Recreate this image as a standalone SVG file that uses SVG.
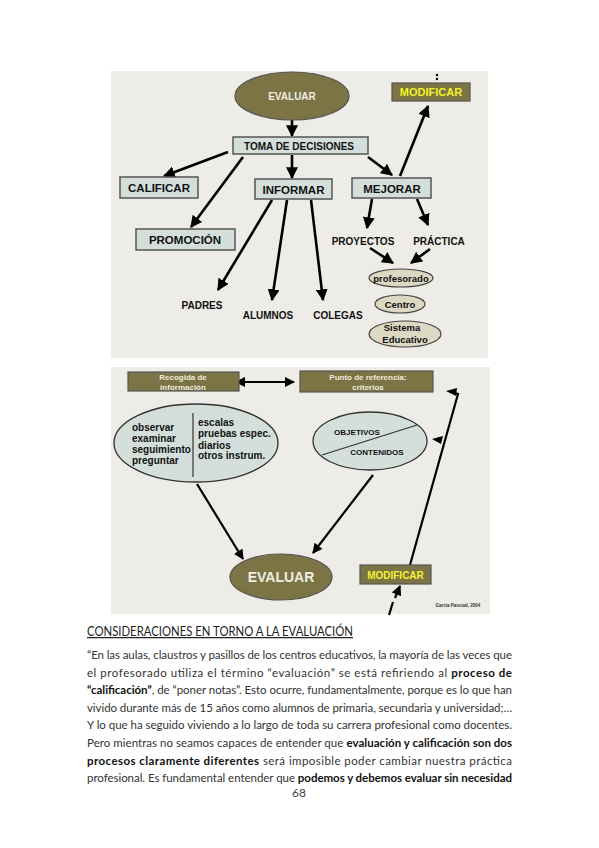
<svg xmlns="http://www.w3.org/2000/svg" width="599" height="848" viewBox="0 0 599 848">
<defs>
<marker id="ah" viewBox="0 0 10 10" refX="9" refY="5" markerWidth="4.6" markerHeight="4.6" orient="auto" markerUnits="strokeWidth">
<path d="M0,0 L10,5 L0,10 z" fill="#000"/>
</marker>
<marker id="ahs" viewBox="0 0 10 10" refX="1" refY="5" markerWidth="4.6" markerHeight="4.6" orient="auto-start-reverse" markerUnits="strokeWidth">
<path d="M0,0 L10,5 L0,10 z" fill="#000"/>
</marker>
</defs>
<style>
.d{font-family:"Liberation Sans",Arial,sans-serif;font-weight:bold;text-anchor:middle}
.box{fill:#d4dfdc;stroke:#555;stroke-width:1.5}
.olive{fill:#7d7446;stroke:#555;stroke-width:1.2}
.beige{fill:#dcd8c4;stroke:#444;stroke-width:1.2}
.lite{fill:#d4dfdc;stroke:#333;stroke-width:1.3}
.c{stroke:#000;stroke-width:2.6;fill:none}
.c2{stroke:#000;stroke-width:2.2;fill:none}
.p{font-family:Lato,"Noto Sans",sans-serif;font-size:11.5px;fill:#333}
.b{font-weight:bold;fill:#111}
</style>
<rect width="599" height="848" fill="#fff"/>
<rect x="111" y="71" width="377" height="287" fill="#eeece6"/>
<rect x="111" y="367" width="379" height="247" fill="#eeece6"/>

<g id="connectors">
<line class="c" x1="292" y1="120" x2="292" y2="136" marker-end="url(#ah)"/>
<line class="c" x1="228" y1="152" x2="164" y2="176" marker-end="url(#ah)"/>
<line class="c" x1="243" y1="157" x2="191" y2="227" marker-end="url(#ah)"/>
<line class="c" x1="292" y1="155" x2="292" y2="178" marker-end="url(#ah)"/>
<line class="c" x1="368" y1="157" x2="392" y2="175" marker-end="url(#ah)"/>
<line class="c" x1="400" y1="176" x2="428" y2="106" marker-end="url(#ah)"/>
<line class="c" x1="272" y1="200" x2="218" y2="290" marker-end="url(#ah)"/>
<line class="c" x1="287" y1="200" x2="272" y2="300" marker-end="url(#ah)"/>
<line class="c" x1="311" y1="200" x2="323" y2="300" marker-end="url(#ah)"/>
<line class="c" x1="372" y1="199" x2="367" y2="228" marker-end="url(#ah)"/>
<line class="c" x1="417" y1="199" x2="428" y2="225" marker-end="url(#ah)"/>
<line class="c" x1="370" y1="248" x2="393" y2="263" marker-end="url(#ah)"/>
<line class="c" x1="430" y1="249" x2="411" y2="263" marker-end="url(#ah)"/>
<circle cx="437" cy="75" r="1.2" fill="#000"/>
<circle cx="437" cy="79" r="1.2" fill="#000"/>

<line class="c2" x1="244" y1="382" x2="294" y2="382" marker-start="url(#ahs)" marker-end="url(#ah)"/>
<line class="c2" x1="197" y1="484" x2="243" y2="559" marker-end="url(#ah)"/>
<line class="c2" x1="373" y1="475" x2="313" y2="553" marker-end="url(#ah)"/>
<polyline class="c2" points="410,565 458,394 452,392"/>
<path d="M446,391 L457,388 L456,396 z" fill="#000"/>
<path d="M432,439 L443,436 L441,444 z" fill="#000"/>
<line class="c2" x1="389" y1="615" x2="393" y2="602"/>
<line class="c2" x1="395" y1="598" x2="400" y2="586" marker-end="url(#ah)"/>
</g>

<g id="evaluar-top"><ellipse class="olive" cx="292" cy="96" rx="57" ry="24"/><text class="d" x="292" y="100" font-size="10" fill="#f0ede2">EVALUAR</text></g>
<g id="modificar-top"><rect class="olive" x="392" y="83" width="78" height="18"/><text class="d" x="431" y="96" font-size="11" fill="#f2f22a">MODIFICAR</text></g>
<g id="toma"><rect class="box" x="233" y="137" width="135" height="17"/><text class="d" x="299" y="149.5" font-size="10" fill="#111">TOMA DE DECISIONES</text></g>
<g id="calificar"><rect class="box" x="120" y="177" width="78" height="21"/><text class="d" x="159" y="192" font-size="11.5" fill="#111">CALIFICAR</text></g>
<g id="informar"><rect class="box" x="255" y="179" width="77" height="20"/><text class="d" x="293.5" y="193.5" font-size="11.5" fill="#111">INFORMAR</text></g>
<g id="mejorar"><rect class="box" x="352" y="178" width="79" height="20"/><text class="d" x="392" y="192.5" font-size="11.5" fill="#111">MEJORAR</text></g>
<g id="promocion"><rect class="box" x="136" y="229" width="99" height="21"/><text class="d" x="185" y="244" font-size="11.5" fill="#111">PROMOCIÓN</text></g>
<g id="padres"><text class="d" x="202" y="309" font-size="10" fill="#111">PADRES</text></g>
<g id="alumnos"><text class="d" x="268" y="319" font-size="10" fill="#111">ALUMNOS</text></g>
<g id="colegas"><text class="d" x="338" y="319" font-size="10" fill="#111">COLEGAS</text></g>
<g id="proyectos"><text class="d" x="363" y="245" font-size="10" fill="#111">PROYECTOS</text></g>
<g id="practica"><text class="d" x="439" y="245" font-size="10" fill="#111">PRÁCTICA</text></g>
<g id="profesorado"><ellipse class="beige" cx="401" cy="278" rx="32" ry="9"/><text class="d" x="401" y="281.5" font-size="9.5" fill="#111">profesorado</text></g>
<g id="centro"><ellipse class="beige" cx="400" cy="304" rx="25" ry="9"/><text class="d" x="400" y="307.5" font-size="9.5" fill="#111">Centro</text></g>
<g id="sistema"><ellipse class="beige" cx="405" cy="334" rx="36" ry="13"/><text class="d" x="402" y="331" font-size="9.5" fill="#111">Sistema</text><text class="d" x="405" y="343" font-size="9.5" fill="#111">Educativo</text></g>

<g id="recogida"><rect class="olive" x="128" y="372" width="111" height="19"/><text class="d" x="183" y="380" font-size="8" fill="#eeeadc">Recogida de</text><text class="d" x="183" y="389.5" font-size="8" fill="#eeeadc">información</text></g>
<g id="punto"><rect class="olive" x="300" y="371" width="133" height="21"/><text class="d" x="368" y="380" font-size="8" fill="#eeeadc">Punto de referencia:</text><text class="d" x="368" y="389.5" font-size="8" fill="#eeeadc">criterios</text></g>
<g id="instrumentos"><ellipse class="lite" cx="196" cy="443" rx="82" ry="39"/><line x1="193" y1="413" x2="193" y2="477" stroke="#333" stroke-width="1.2"/>
<g class="d" font-size="10" fill="#111" style="text-anchor:start">
<text x="132" y="431">observar</text><text x="132" y="442">examinar</text><text x="132" y="452.5">seguimiento</text><text x="132" y="464">preguntar</text>
<text x="198" y="426">escalas</text><text x="198" y="437">pruebas espec.</text><text x="198" y="448.5">diarios</text><text x="198" y="459">otros instrum.</text>
</g></g>
<g id="objetivos"><ellipse class="lite" cx="370" cy="441" rx="57" ry="29"/><line x1="322" y1="455" x2="417" y2="425" stroke="#333" stroke-width="1.2"/><text class="d" x="357" y="435" font-size="8" fill="#111">OBJETIVOS</text><text class="d" x="377" y="455" font-size="8" fill="#111">CONTENIDOS</text></g>
<g id="evaluar-bottom"><ellipse class="olive" cx="281" cy="577" rx="51" ry="23"/><text class="d" x="281" y="582" font-size="14" fill="#f0ede2">EVALUAR</text></g>
<g id="modificar-bottom"><rect class="olive" x="360" y="565" width="71" height="19"/><text class="d" x="395.5" y="578.5" font-size="10" fill="#f2f22a">MODIFICAR</text></g>
<text class="d" x="458" y="607" font-size="4.5" fill="#333">Garcia Pascual, 2004</text>

<g id="texto">
<text x="87" y="636" font-family="Lato,'Noto Sans',sans-serif" font-size="12.5" fill="#222" text-decoration="underline" textLength="266" lengthAdjust="spacingAndGlyphs">CONSIDERACIONES EN TORNO A LA EVALUACIÓN</text>
<text class="p" x="87" y="659" textLength="425" lengthAdjust="spacing">“En las aulas, claustros y pasillos de los centros educativos, la mayoría de las veces que</text>
<text class="p" x="87" y="676.6" textLength="425" lengthAdjust="spacing">el profesorado utiliza el término “evaluación” se está refiriendo al <tspan class="b">proceso de</tspan></text>
<text class="p" x="87" y="694.2" textLength="425" lengthAdjust="spacing"><tspan class="b">“calificación”</tspan>, de “poner notas”. Esto ocurre, fundamentalmente, porque es lo que han</text>
<text class="p" x="87" y="711.8" textLength="425" lengthAdjust="spacing">vivido durante más de 15 años como alumnos de primaria, secundaria y universidad;…</text>
<text class="p" x="87" y="729.4" textLength="425" lengthAdjust="spacing">Y lo que ha seguido viviendo a lo largo de toda su carrera profesional como docentes.</text>
<text class="p" x="87" y="747" textLength="425" lengthAdjust="spacing">Pero mientras no seamos capaces de entender que <tspan class="b">evaluación y calificación son dos</tspan></text>
<text class="p" x="87" y="764.6" textLength="425" lengthAdjust="spacing"><tspan class="b">procesos claramente diferentes</tspan> será imposible poder cambiar nuestra práctica</text>
<text class="p" x="87" y="782.2" textLength="425" lengthAdjust="spacing">profesional. Es fundamental entender que <tspan class="b">podemos y debemos evaluar sin necesidad</tspan></text>
<text x="299" y="797" font-family="Lato,'Noto Sans',sans-serif" font-size="12" fill="#444" text-anchor="middle">68</text>
</g>
</svg>
